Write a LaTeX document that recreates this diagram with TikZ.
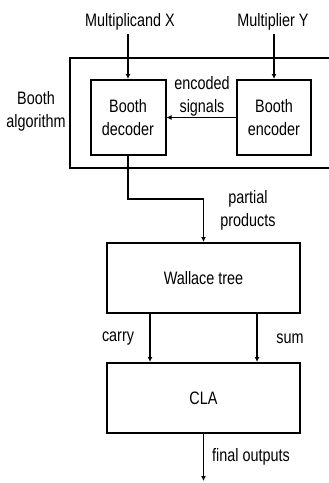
\documentclass[tikz,border=0pt]{standalone}
\usepackage{fontspec}
\newfontfamily\diagfont{Liberation Sans}[FakeStretch=0.8]
\usetikzlibrary{arrows.meta, positioning}
\tikzset{
  block/.style={draw, line width=2pt, align=center},
  lbl/.style={font=\diagfont\fontsize{18}{23}\selectfont, align=center},
  sig/.style={line width=1.6pt, -{Latex[length=5pt,width=5pt]}},
}
\begin{document}
\begin{tikzpicture}[x=1pt, y=-1pt]
  \useasboundingbox (0,0) rectangle (329,483);

  % Booth algorithm frame (runs off the right edge)
  \draw[line width=2pt] (329,58) -- (70,58) -- (70,168) -- (329,168);

  % Blocks
  \node[block, lbl, minimum width=75pt, minimum height=75pt] (decoder) at (128,117.5) {Booth\\decoder};
  \node[block, lbl, minimum width=74pt, minimum height=75pt] (encoder) at (274,117.5) {Booth\\encoder};
  \node[block, lbl, minimum width=193pt, minimum height=70pt] (wallace) at (203.5,278) {Wallace tree};
  \node[block, lbl, minimum width=193pt, minimum height=70pt] (cla) at (203.5,398) {CLA};

  % Labels
  \node[lbl] (mcand) at (130,22) {Multiplicand X};
  \node[lbl] (mplier) at (273,22) {Multiplier Y};
  \node[lbl, inner sep=0pt] (booth) at (36,111) {Booth\\algorithm};
  \node[lbl] (enc) at (202,96) {encoded\\signals};
  \node[lbl] (pp) at (248,210) {partial\\products};
  \node[lbl] (carry) at (118,339) {carry};
  \node[lbl] (sum) at (290,339) {sum};
  \node[lbl] (fout) at (251,457) {final outputs};
  \coordinate (out) at (203.5,481);

  % Connectors
  \draw[sig] (mcand.south -| decoder.north) -- (decoder.north);
  \draw[sig] (mplier.south -| encoder.north) -- (encoder.north);
  \draw[sig] (encoder.west) -- (decoder.east);
  \draw[sig] (decoder.south) -- ++(0,43) -| (wallace.north);
  \draw[sig] ([xshift=-53.5pt]wallace.south) -- ([xshift=-53.5pt]cla.north);
  \draw[sig] ([xshift=53.5pt]wallace.south) -- ([xshift=53.5pt]cla.north);
  \draw[sig] (cla.south) -- (out);
\end{tikzpicture}
\end{document}
